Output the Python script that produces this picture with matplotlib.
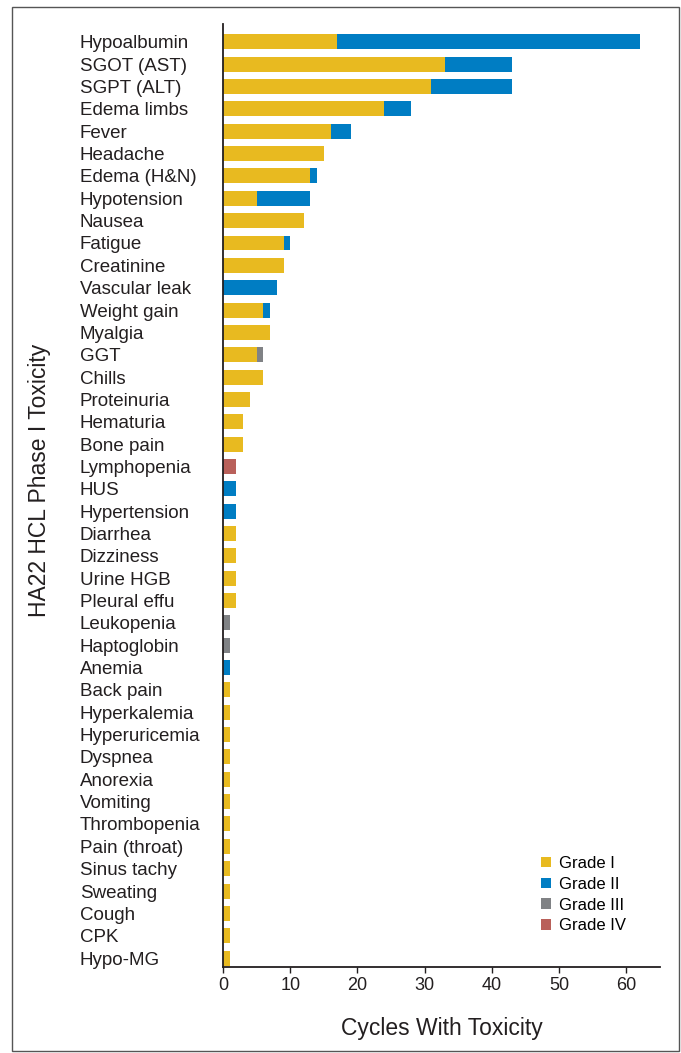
import numpy as np
import matplotlib.pyplot as plt
from matplotlib.patches import Rectangle

plt.rcParams['font.family'] = ['Liberation Sans Narrow', 'Liberation Sans', 'DejaVu Sans']

categories = ["Hypoalbumin", "SGOT (AST)", "SGPT (ALT)", "Edema limbs", "Fever",
              "Headache", "Edema (H&N)", "Hypotension", "Nausea", "Fatigue",
              "Creatinine", "Vascular leak", "Weight gain", "Myalgia", "GGT",
              "Chills", "Proteinuria", "Hematuria", "Bone pain", "Lymphopenia",
              "HUS", "Hypertension", "Diarrhea", "Dizziness", "Urine HGB",
              "Pleural effu", "Leukopenia", "Haptoglobin", "Anemia", "Back pain",
              "Hyperkalemia", "Hyperuricemia", "Dyspnea", "Anorexia", "Vomiting",
              "Thrombopenia", "Pain (throat)", "Sinus tachy", "Sweating", "Cough",
              "CPK", "Hypo-MG"]

grade1 = [17, 33, 31, 24, 16, 15, 13, 5, 12, 9, 9, 0, 6, 7, 5, 6, 4, 3, 3, 0,
          0, 0, 2, 2, 2, 2, 0, 0, 0, 1, 1, 1, 1, 1, 1, 1, 1, 1, 1, 1, 1, 1]
grade2 = [45, 10, 12, 4, 3, 0, 1, 8, 0, 1, 0, 8, 1, 0, 0, 0, 0, 0, 0, 0,
          2, 2, 0, 0, 0, 0, 0, 0, 1, 0, 0, 0, 0, 0, 0, 0, 0, 0, 0, 0, 0, 0]
grade3 = [0, 0, 0, 0, 0, 0, 0, 0, 0, 0, 0, 0, 0, 0, 1, 0, 0, 0, 0, 0,
          0, 0, 0, 0, 0, 0, 1, 1, 0, 0, 0, 0, 0, 0, 0, 0, 0, 0, 0, 0, 0, 0]
grade4 = [0, 0, 0, 0, 0, 0, 0, 0, 0, 0, 0, 0, 0, 0, 0, 0, 0, 0, 0, 2,
          0, 0, 0, 0, 0, 0, 0, 0, 0, 0, 0, 0, 0, 0, 0, 0, 0, 0, 0, 0, 0, 0]

grades = ["Grade I", "Grade II", "Grade III", "Grade IV"]
colors = ["#E8BA20", "#007DC3", "#808285", "#B9605A"]

fig = plt.figure(figsize=(6.81, 10.53), dpi=100)
ax = fig.add_axes([223 / 681, 1 - 967 / 1053, (660 - 223) / 681, (967 - 24) / 1053])

y = np.arange(len(categories))
left = np.zeros(len(categories))
for vals, name, col in zip([grade1, grade2, grade3, grade4], grades, colors):
    vals = np.array(vals, dtype=float)
    ax.barh(y, vals, left=left, height=0.67, color=col, label=name)
    left += vals

ax.set_ylim(len(categories) - 0.6, -0.8)
ax.set_xlim(0, 65)
ax.set_xticks(range(0, 61, 10))
ax.set_yticks(y)
ax.set_yticklabels(categories, fontsize=13.5, color="#231f20")
for lab in ax.get_yticklabels():
    lab.set_horizontalalignment("left")
ax.tick_params(axis="y", length=0, pad=103)
ax.tick_params(axis="x", labelsize=13, colors="#231f20", length=4, width=1)

for s in ["top", "right"]:
    ax.spines[s].set_visible(False)
for s in ["left", "bottom"]:
    ax.spines[s].set_color("#231f20")
    ax.spines[s].set_linewidth(1.3)

ax.set_xlabel("Cycles With Toxicity", fontsize=16.5, color="#231f20", labelpad=16)
fig.text(40 / 681, 1 - 480 / 1053, "HA22 HCL Phase I Toxicity", rotation=90,
         fontsize=16.5, color="#231f20", ha="center", va="center")

ax.legend(loc="lower right", bbox_to_anchor=(0.945, 0.025), frameon=False,
          fontsize=12, handlelength=0.6, handleheight=0.6, handletextpad=0.5,
          labelspacing=0.35, borderaxespad=0.2)

fig.patches.append(Rectangle((12 / 681, 2 / 1053), 667 / 681, 1044 / 1053,
                             transform=fig.transFigure, fill=False,
                             edgecolor="#555555", linewidth=1))

fig.savefig("out.png", dpi=100)
